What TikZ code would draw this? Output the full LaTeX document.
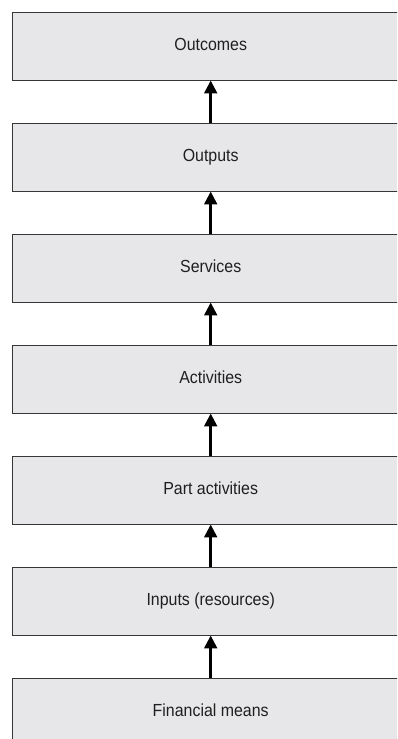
\documentclass[tikz,border=0pt]{standalone}
\usepackage{fontspec}
\setmainfont[FakeStretch=0.91]{Liberation Sans}
\usetikzlibrary{arrows.meta}
\definecolor{boxfill}{HTML}{E7E7E9}
\definecolor{boxline}{HTML}{363636}
\begin{document}
\begin{tikzpicture}[x=1pt,y=-1pt,
  stagebox/.style={draw=boxline, fill=boxfill, line width=1.4pt,
    minimum width=396pt, minimum height=68pt, inner sep=0pt,
    text height=12.5pt, text depth=5pt,
    font=\fontsize{17.5}{20}\selectfont, text=black!88, anchor=north west},
  uparrow/.style={draw=black, line width=3.4pt,
    -{Triangle[width=12.5pt,length=13pt]}}]
\useasboundingbox (0,0) rectangle (397,739);
\fill[white] (0,0) rectangle (397,739);
\clip (0,0) rectangle (397,739);
\node[stagebox] (n1) at (12,12) {Outcomes};
\node[stagebox] (n2) at (12,123) {Outputs};
\node[stagebox] (n3) at (12,234) {Services};
\node[stagebox] (n4) at (12,345) {Activities};
\node[stagebox] (n5) at (12,456) {Part activities};
\node[stagebox] (n6) at (12,567) {Inputs (resources)};
\node[stagebox] (n7) at (12,678) {Financial means};
\draw[uparrow] (n2.north) -- ([yshift=1pt]n1.south);
\draw[uparrow] (n3.north) -- ([yshift=1pt]n2.south);
\draw[uparrow] (n4.north) -- ([yshift=1pt]n3.south);
\draw[uparrow] (n5.north) -- ([yshift=1pt]n4.south);
\draw[uparrow] (n6.north) -- ([yshift=1pt]n5.south);
\draw[uparrow] (n7.north) -- ([yshift=1pt]n6.south);
\end{tikzpicture}
\end{document}
